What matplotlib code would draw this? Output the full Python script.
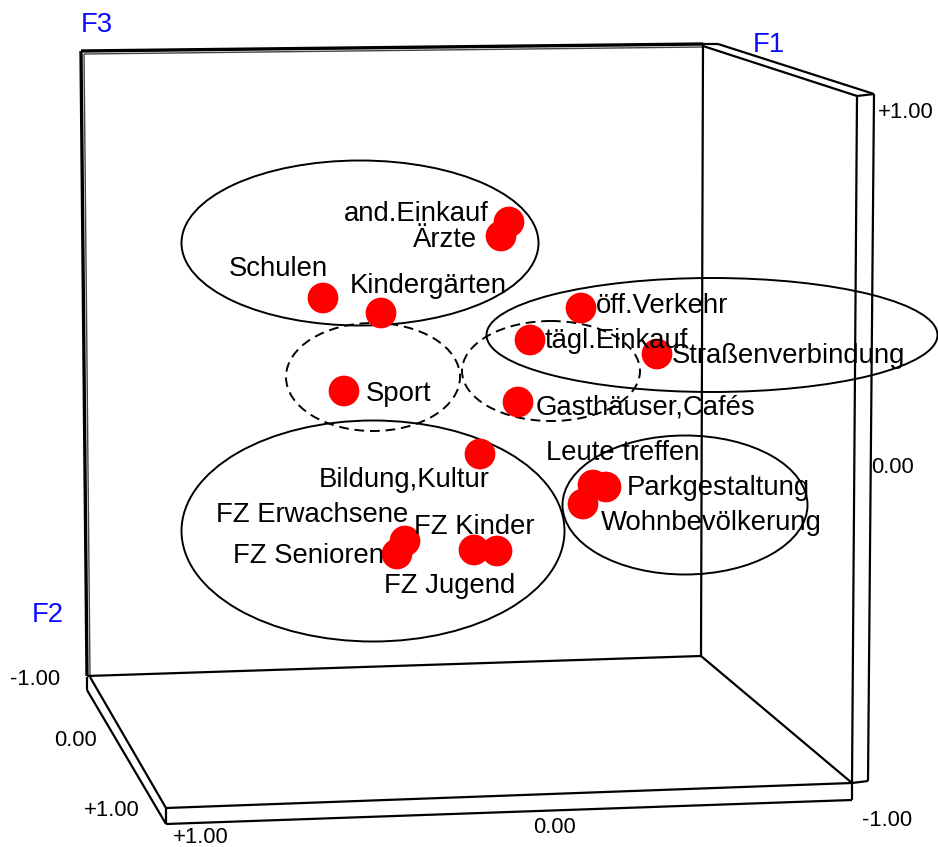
import matplotlib
matplotlib.use("Agg")
import matplotlib.pyplot as plt
from matplotlib.patches import Ellipse

plt.rcParams['font.family'] = ['Liberation Sans', 'DejaVu Sans']

# ---- data: projected positions of the items (screen units of the 3D view) ----
names = ["and.Einkauf", "Ärzte", "Schulen", "Kindergärten", "öff.Verkehr",
         "tägl.Einkauf", "Straßenverbindung", "Sport", "Gasthäuser,Cafés",
         "Bildung,Kultur", "Leute treffen", "Parkgestaltung", "Wohnbevölkerung",
         "FZ Erwachsene", "FZ Senioren", "FZ Kinder", "FZ Jugend"]
px = [509, 501, 323, 381, 581, 530, 657, 344, 518, 480, 593, 606, 583, 405, 397, 474, 497]
py = [222, 236, 298, 313, 308, 340, 354, 391, 402, 454, 485, 487, 504, 541, 554, 550, 551]

# label anchors (x, y, horizontal alignment)
label_pos = [(489, 211, 'right'), (477, 237, 'right'), (229, 266, 'left'),
             (350, 283, 'left'), (596, 303, 'left'), (545, 338, 'left'),
             (672, 353, 'left'), (366, 391, 'left'), (536, 404, 'left'),
             (490, 477, 'right'), (546, 450, 'left'), (627, 485, 'left'),
             (601, 520, 'left'), (408, 512, 'right'), (384, 553, 'right'),
             (414, 524, 'left'), (384, 583, 'left')]

# cluster ellipses: center x, center y, width, height, dashed
clusters = [(360, 243, 357, 165, False), (712, 335, 451, 114, False),
            (373, 377, 174, 108, True), (551, 371, 178, 100, True),
            (373, 531, 383, 221, False), (685, 505, 245, 139, False)]

axis_names = ["F3", "F1", "F2"]
tick_texts = ["+1.00", "0.00", "-1.00", "0.00", "+1.00", "+1.00", "0.00", "-1.00"]

W, H = 938, 847
fig = plt.figure(figsize=(W / 100, H / 100), dpi=100)
ax = fig.add_axes([0, 0, 1, 1])
ax.set_xlim(0, W)
ax.set_ylim(H, 0)
ax.axis('off')

k = dict(color='black', lw=1.6, solid_capstyle='butt')

def seg(p, q, **kw):
    d = dict(k); d.update(kw)
    ax.plot([p[0], q[0]], [p[1], q[1]], **d)

# back wall (double edges top and left)
seg((81, 51), (703, 44), lw=2.4)
seg((84, 54), (703, 47), lw=1.0, color='#444444')
seg((81, 51), (87, 676), lw=2.4)
seg((84, 54), (90, 676), lw=1.0, color='#444444')
seg((87, 676), (701, 656))
seg((703, 44), (701, 656))
# right wall slab
seg((703, 46), (857, 96))
seg((718, 44), (874, 94))
seg((703, 44), (718, 44))
seg((857, 96), (874, 94))
seg((857, 96), (852, 783))
seg((874, 94), (868, 781))
seg((852, 783), (868, 781))
# floor
seg((701, 656), (852, 783))
seg((90, 677), (166, 808))
seg((87, 677), (87, 690))
seg((87, 690), (166, 824))
seg((166, 808), (852, 783))
seg((166, 824), (852, 800))
seg((166, 808), (166, 824))
seg((852, 783), (852, 800))

# ellipses
for cx, cy, w, h, dashed in clusters:
    ax.add_patch(Ellipse((cx, cy), w, h, fill=False, edgecolor='black', lw=1.4,
                         linestyle=(0, (5, 3)) if dashed else '-', zorder=2))

# points
ax.scatter(px, py, s=490, color='#ff0000', edgecolors='none', zorder=3)

# labels
for name, (lx, ly, ha) in zip(names, label_pos):
    ax.text(lx, ly, name, fontsize=19.8, ha=ha, va='center_baseline', zorder=4)

# axis names
blue = '#0a0aff'
ax.text(97, 22, axis_names[0], color=blue, fontsize=19.8, ha='center', va='center_baseline')
ax.text(769, 42, axis_names[1], color=blue, fontsize=19.8, ha='center', va='center_baseline')
ax.text(48, 612, axis_names[2], color=blue, fontsize=19.8, ha='center', va='center_baseline')

# tick labels
tick_pos = [(878, 110, 'left'), (871, 465, 'left'), (862, 818, 'left'),
            (554, 825, 'center'), (173, 835, 'left'), (140, 808, 'right'),
            (97, 738, 'right'), (60, 677, 'right')]
for t, (tx, ty, ha) in zip(tick_texts, tick_pos):
    ax.text(tx, ty, t, fontsize=15.8, ha=ha, va='center_baseline')

fig.savefig('out.png', dpi=100)
